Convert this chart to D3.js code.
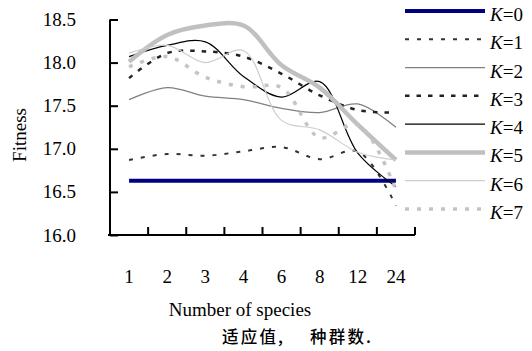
<!DOCTYPE html>
<html>
<head>
<meta charset="utf-8">
<script src="https://cdn.jsdelivr.net/npm/d3@7"></script>
<style>
  body { margin: 0; background: #fff; }
  svg text { font-family: 'Liberation Serif', 'Times New Roman', serif; fill: #000; }
</style>
</head>
<body>
<div id="chart"></div>
<script>
// number of species on the x axis
const categories = ['1', '2', '3', '4', '6', '8', '12', '24']
const yTicks = [16.0, 16.5, 17.0, 17.5, 18.0, 18.5]

// fitness for each K
const k0 = [16.63, 16.63, 16.63, 16.63, 16.63, 16.63, 16.63, 16.63]
const k1 = [16.87, 16.94, 16.92, 16.97, 17.02, 16.88, 16.97, 16.34]
const k2 = [17.57, 17.71, 17.61, 17.57, 17.47, 17.42, 17.52, 17.25]
const k3 = [17.82, 18.11, 18.13, 18.07, 17.87, 17.62, 17.45, 17.42]
const k4 = [18.07, 18.20, 18.24, 17.84, 17.60, 17.78, 16.95, 16.56]
const k5 = [18.01, 18.32, 18.43, 18.43, 17.97, 17.71, 17.28, 16.87]
const k6 = [18.11, 18.20, 18.00, 18.14, 17.33, 17.22, 16.96, 16.87]
const k7 = [17.95, 18.07, 17.83, 17.72, 17.71, 17.13, 17.28, 16.52]

const seriesNames = ['K=0', 'K=1', 'K=2', 'K=3', 'K=4', 'K=5', 'K=6', 'K=7']
const seriesValues = [k0, k1, k2, k3, k4, k5, k6, k7]

// line look for each series
const styles = [
  { color: '#000080', width: 4, dash: null },
  { color: '#333', width: 2, dash: '4,8' },
  { color: '#808080', width: 1.3, dash: null },
  { color: '#222', width: 2.5, dash: '4.5,7' },
  { color: '#000', width: 1.2, dash: null },
  { color: '#c0c0c0', width: 4.5, dash: null },
  { color: '#cdcdcd', width: 1.2, dash: null },
  { color: '#c4c4c4', width: 3.5, dash: '4,8' }
]

const width = 532
const height = 351

const svg = d3.select('#chart')
  .append('svg')
  .attr('width', width)
  .attr('height', height)

svg.append('rect').attr('width', width).attr('height', height).attr('fill', '#fff')

const x = d3.scaleBand().domain(categories).range([110, 415])
const y = d3.scaleLinear().domain([16, 18.5]).range([235, 19.5])

// y axis, ticks pointing inward
const yAxis = svg.append('g')
  .attr('transform', 'translate(110,0)')
  .call(d3.axisLeft(y).tickValues(yTicks).tickFormat(d3.format('.1f')).tickSize(-8).tickPadding(34))
yAxis.select('.domain').attr('stroke-width', 2).attr('d', 'M0,' + y(18.5) + 'V' + y(16))
yAxis.selectAll('.tick line').attr('stroke-width', 2)
yAxis.selectAll('text').attr('font-size', 19).attr('font-family', 'Liberation Serif')

// x axis: labels in the band centres, ticks on band edges
const xAxis = svg.append('g')
  .attr('transform', 'translate(0,235)')
  .call(d3.axisBottom(x).tickSize(0).tickPadding(35))
xAxis.select('.domain').attr('stroke-width', 2).attr('d', 'M108,0H' + x.range()[1])
xAxis.selectAll('text').attr('font-size', 19).attr('font-family', 'Liberation Serif')

svg.append('g')
  .selectAll('line')
  .data(categories)
  .enter().append('line')
  .attr('x1', function (d) { return x(d) + x.bandwidth() })
  .attr('x2', function (d) { return x(d) + x.bandwidth() })
  .attr('y1', 235)
  .attr('y2', 227)
  .attr('stroke', '#000')
  .attr('stroke-width', 2)

const line = d3.line()
  .x(function (d, i) { return x(categories[i]) + x.bandwidth() / 2 })
  .y(function (d) { return y(d) })
  .curve(d3.curveCatmullRom.alpha(0.5))

svg.append('g')
  .selectAll('path')
  .data(seriesValues)
  .enter().append('path')
  .attr('d', function (d) { return line(d) })
  .attr('fill', 'none')
  .attr('stroke', function (d, i) { return styles[i].color })
  .attr('stroke-width', function (d, i) { return styles[i].width })
  .attr('stroke-dasharray', function (d, i) { return styles[i].dash })

// legend
const ly = d3.scaleLinear().domain([0, 7]).range([11, 209])
const legend = svg.append('g')
  .selectAll('g')
  .data(seriesNames)
  .enter().append('g')
  .attr('transform', function (d, i) { return 'translate(0,' + ly(i) + ')' })

legend.append('line')
  .attr('x1', 405)
  .attr('x2', 485)
  .attr('stroke', function (d, i) { return styles[i].color })
  .attr('stroke-width', function (d, i) { return styles[i].width })
  .attr('stroke-dasharray', function (d, i) { return styles[i].dash })

const lt = legend.append('text')
  .attr('x', 490)
  .attr('y', 10)
  .attr('font-size', 19)
lt.append('tspan').attr('font-style', 'italic').text('K')
lt.append('tspan').text(function (d) { return d.slice(1) })

// axis titles
svg.append('text')
  .attr('transform', 'translate(26,135) rotate(-90)')
  .attr('text-anchor', 'middle')
  .attr('font-size', 19)
  .text('Fitness')

svg.append('text')
  .attr('x', 240)
  .attr('y', 316)
  .attr('text-anchor', 'middle')
  .attr('font-size', 19)
  .text('Number of species')

// caption
const cap = svg.append('text')
  .attr('y', 343)
  .attr('font-size', 16.5)
  .attr('font-weight', 500)
  .attr('letter-spacing', 2.2)
  .style('font-family', "'Noto Sans CJK SC', sans-serif")
cap.append('tspan').attr('x', 222).text('适应值,')
cap.append('tspan').attr('x', 310).text('种群数.')
</script>
</body>
</html>
